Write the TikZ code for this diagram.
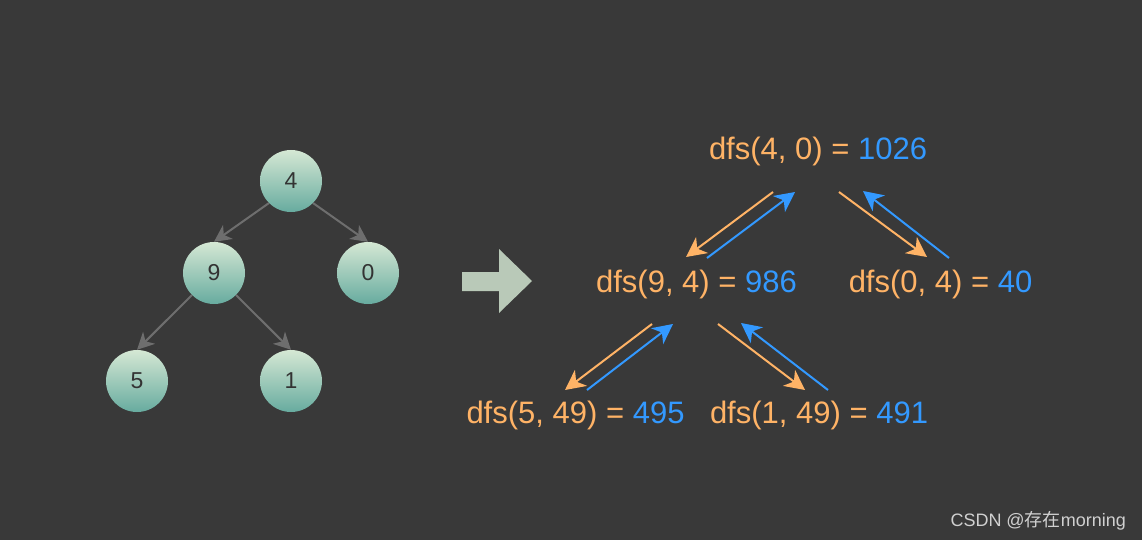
\documentclass[tikz,border=0pt]{standalone}
\usepackage{fontspec}
\setmainfont{Liberation Sans}
\newfontfamily\cjkfont{Noto Sans CJK SC}
\usetikzlibrary{arrows.meta}
\definecolor{bg}{HTML}{393939}
\definecolor{orng}{HTML}{FFB366}
\definecolor{blu}{HTML}{3399FF}
\definecolor{edgegray}{HTML}{6E6E6E}
\definecolor{ctop}{HTML}{D5E8D4}
\definecolor{cbot}{HTML}{67AB9F}
\definecolor{bigarrow}{HTML}{B9C9B8}
\definecolor{wm}{HTML}{D0D0D0}
\tikzset{
  treenode/.style={circle, minimum size=62pt, inner sep=0pt, top color=ctop, bottom color=cbot, draw=none, text=black!80, font=\fontsize{23}{27}\selectfont},
  treeedge/.style={draw=edgegray, line width=2pt, -{Stealth[length=17pt,width=17pt,inset=5pt]}},
  lbl/.style={anchor=base, inner sep=0pt, font=\fontsize{31}{37}\selectfont},
  callarrow/.style={draw=orng, line width=2pt, -{Stealth[length=20pt,width=20pt,inset=6pt]}},
  retarrow/.style={draw=blu, line width=2pt, -{Stealth[length=20pt,width=20pt,inset=6pt]}}
}
\begin{document}
\begin{tikzpicture}[x=1pt,y=-1pt]
\fill[bg] (0,0) rectangle (1142,540);
\useasboundingbox (0,0) rectangle (1142,540);
% tree
\node[treenode] (n4) at (291,181) {4};
\node[treenode] (n9) at (214,273) {9};
\node[treenode] (n0) at (368,273) {0};
\node[treenode] (n5) at (137,381) {5};
\node[treenode] (n1) at (291,381) {1};
\draw[treeedge] (n4.south west) -- (n9.north);
\draw[treeedge] (n4.south east) -- (n0.north);
\draw[treeedge] (n9.south west) -- (n5.north);
\draw[treeedge] (n9.south east) -- (n1.north);
% big arrow
\fill[bigarrow] (462,272) -- (499,272) -- (499,249) -- (532,281) -- (499,313) -- (499,291) -- (462,291) -- cycle;
% labels
\node[lbl] (d40) at (818,160) {\textcolor{orng}{dfs(4, 0) =} \textcolor{blu}{1026}};
\node[lbl] (d94) at (696.5,292) {\textcolor{orng}{dfs(9, 4) =} \textcolor{blu}{986}};
\node[lbl] (d04) at (940.5,292) {\textcolor{orng}{dfs(0, 4) =} \textcolor{blu}{40}};
\node[lbl] (d549) at (575.5,423) {\textcolor{orng}{dfs(5, 49) =} \textcolor{blu}{495}};
\node[lbl] (d149) at (819,423) {\textcolor{orng}{dfs(1, 49) =} \textcolor{blu}{491}};
% arrow end coordinates
\coordinate (a1s) at (773,192); \coordinate (a1e) at (686,257);
\coordinate (b1s) at (707,258); \coordinate (b1e) at (795,192);
\coordinate (a2s) at (839,192); \coordinate (a2e) at (927,257);
\coordinate (b2s) at (949,258); \coordinate (b2e) at (863,191);
\coordinate (a3s) at (652,324); \coordinate (a3e) at (565,390);
\coordinate (b3s) at (587,390); \coordinate (b3e) at (673,324);
\coordinate (a4s) at (718,324); \coordinate (a4e) at (805,390);
\coordinate (b4s) at (828,390); \coordinate (b4e) at (741,323);
\draw[callarrow] (a1s) -- (a1e);
\draw[retarrow] (b1s) -- (b1e);
\draw[callarrow] (a2s) -- (a2e);
\draw[retarrow] (b2s) -- (b2e);
\draw[callarrow] (a3s) -- (a3e);
\draw[retarrow] (b3s) -- (b3e);
\draw[callarrow] (a4s) -- (a4e);
\draw[retarrow] (b4s) -- (b4e);
% watermark
\node[anchor=base east, inner sep=0pt, text=wm, font=\fontsize{18}{21}\selectfont] (wmk) at (1126,526) {CSDN @{\cjkfont 存在}morning};
\end{tikzpicture}
\end{document}
